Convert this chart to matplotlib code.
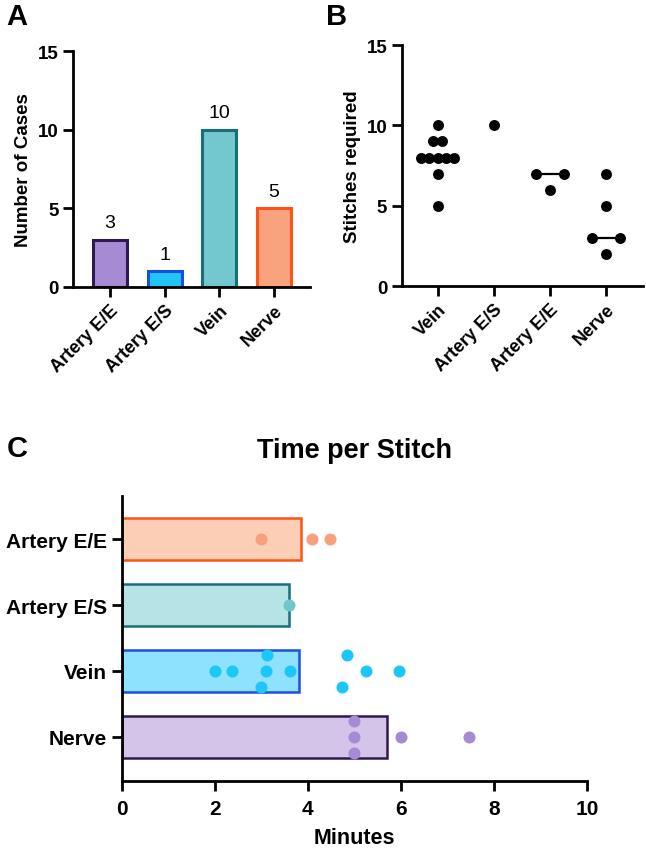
import numpy as np
import matplotlib
matplotlib.use("Agg")
import matplotlib.pyplot as plt

plt.rcParams['font.family'] = ['Liberation Sans', 'DejaVu Sans']

# ---------------- data ----------------
# Panel A
a_categories = ["Artery E/E", "Artery E/S", "Vein", "Nerve"]
a_counts = [3, 1, 10, 5]

# Panel B
b_categories = ["Vein", "Artery E/S", "Artery E/E", "Nerve"]
b_vein = [10, 9, 9, 8, 8, 8, 8, 8, 7, 5]
b_artery_es = [10]
b_artery_ee = [7, 7, 6]
b_nerve = [7, 5, 3, 3, 2]

# Panel C
c_categories = ["Artery E/E", "Artery E/S", "Vein", "Nerve"]
c_artery_ee = [3.0, 4.1, 4.48]
c_artery_es = [3.6]
c_vein = [2.0, 2.37, 3.0, 3.1, 3.13, 3.62, 4.73, 4.85, 5.26, 5.97]
c_nerve = [5.0, 5.0, 5.0, 6.0, 7.46]

# ---------------- styles ----------------
a_fill = ['#A68BD4', '#22C4F6', '#72C8CE', '#F9A27E']
a_edge = ['#2E1A4F', '#1550E6', '#1A6E77', '#FF5316']
c_fill = ['#FCCEB6', '#B6E3E6', '#8FE2FD', '#D4C4E9']
c_edge = ['#FF5316', '#1A6E77', '#1D4FE3', '#2E1A4F']
c_dot = ['#F7A07C', '#6FC7CB', '#1CC6F8', '#A68BD4']

SPINE_W = 2.0
TICK_LEN = 7


def style_axes(ax):
    for s in ['top', 'right']:
        ax.spines[s].set_visible(False)
    for s in ['left', 'bottom']:
        ax.spines[s].set_linewidth(SPINE_W)
    ax.tick_params(width=SPINE_W, length=TICK_LEN, direction='out')


fig = plt.figure(figsize=(6.46, 8.53), dpi=100)

# ---------------- Panel A ----------------
axA = fig.add_axes([0.113, 0.6624, 0.367, 0.2766])
xa = np.arange(len(a_categories))
axA.bar(xa, a_counts, width=0.62, color=a_fill, edgecolor=a_edge, linewidth=2.2)
for x, v in zip(xa, a_counts):
    axA.text(x, v + 0.55, str(v), ha='center', va='bottom', fontsize=14)
axA.set_ylim(0, 15)
axA.set_xlim(-0.68, 3.66)
axA.set_yticks([0, 5, 10, 15])
axA.set_xticks(xa)
axA.set_xticklabels(a_categories, rotation=45, ha='right', rotation_mode='anchor',
                    fontsize=13, fontweight='bold')
for lab in axA.get_yticklabels():
    lab.set_fontweight('bold'); lab.set_fontsize(13.5)
axA.set_ylabel("Number of Cases", fontsize=13.5, fontweight='bold', labelpad=4)
style_axes(axA)

# ---------------- Panel B ----------------
axB = fig.add_axes([0.622, 0.6635, 0.373, 0.2825])
b_groups = [b_vein, b_artery_es, b_artery_ee, b_nerve]
b_step = [0.15, 0.5, 0.5, 0.5]
for i, (vals, step) in enumerate(zip(b_groups, b_step)):
    vals = np.array(vals, dtype=float)
    xs = np.zeros_like(vals)
    for u in np.unique(vals):
        idx = np.where(vals == u)[0]
        n = len(idx)
        xs[idx] = (np.arange(n) - (n - 1) / 2) * step
    if len(vals) > 1:
        med = np.median(vals)
        axB.plot([i - 0.25, i + 0.25], [med, med], color='black', lw=1.6, zorder=2)
    axB.scatter(i + xs, vals, s=62, color='black', zorder=3, linewidths=0)
axB.set_ylim(0, 15)
axB.set_xlim(-0.64, 3.66)
axB.set_yticks([0, 5, 10, 15])
axB.set_xticks(range(len(b_categories)))
axB.set_xticklabels(b_categories, rotation=45, ha='right', rotation_mode='anchor',
                    fontsize=13, fontweight='bold')
for lab in axB.get_yticklabels():
    lab.set_fontweight('bold'); lab.set_fontsize(13.5)
axB.set_ylabel("Stitches required", fontsize=13.5, fontweight='bold', labelpad=4)
style_axes(axB)

# ---------------- Panel C ----------------
axC = fig.add_axes([0.1884, 0.0836, 0.7203, 0.3341])
c_groups = [c_artery_ee, c_artery_es, c_vein, c_nerve]
ypos = np.arange(len(c_categories))[::-1]
means = [np.mean(g) for g in c_groups]
axC.barh(ypos, means, height=0.63, color=c_fill, edgecolor=c_edge, linewidth=1.8, zorder=1)
ROW = 0.24
for y, vals, col in zip(ypos, c_groups, c_dot):
    vals = np.sort(np.array(vals, dtype=float))
    # group close values into clusters and spread them vertically
    clusters = [[0]]
    for k in range(1, len(vals)):
        if vals[k] - vals[clusters[-1][-1]] < 0.3:
            clusters[-1].append(k)
        else:
            clusters.append([k])
    offs = np.zeros_like(vals)
    for cl in clusters:
        n = len(cl)
        if n == 2:
            rows = [-1, 1]
        else:
            rows = list(np.arange(n) - (n - 1) / 2)
        for k, r in zip(cl, rows):
            offs[k] = r * ROW
    axC.scatter(vals, y + offs, s=75, color=col, zorder=3, linewidths=0)
axC.set_xlim(0, 10)
axC.set_ylim(-0.665, 3.66)
axC.set_xticks([0, 2, 4, 6, 8, 10])
axC.set_yticks(ypos)
axC.set_yticklabels(c_categories, fontsize=15, fontweight='bold')
for lab in axC.get_xticklabels():
    lab.set_fontweight('bold'); lab.set_fontsize(15)
axC.set_xlabel("Minutes", fontsize=15.5, fontweight='bold', labelpad=7)
axC.set_title("Time per Stitch", fontsize=19.5, fontweight='bold', pad=28)
style_axes(axC)
axC.tick_params(axis='x', pad=6)

# Panel letters
fig.text(0.010, 0.996, "A", fontsize=21, fontweight='bold', va='top', ha='left')
fig.text(0.505, 0.996, "B", fontsize=21, fontweight='bold', va='top', ha='left')
fig.text(0.010, 0.474, "C", fontsize=21, fontweight='bold', va='center', ha='left')

fig.savefig("out.png", dpi=100)
